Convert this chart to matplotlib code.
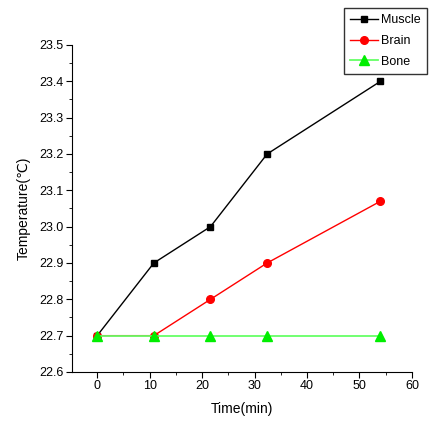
import matplotlib
matplotlib.use("Agg")
import matplotlib.pyplot as plt
from matplotlib.ticker import MultipleLocator

plt.rcParams['font.family'] = ['Liberation Sans', 'DejaVu Sans']

time_min = [0, 10.8, 21.6, 32.4, 54]
muscle = [22.7, 22.9, 23.0, 23.2, 23.4]
brain = [22.7, 22.7, 22.8, 22.9, 23.07]
bone = [22.7, 22.7, 22.7, 22.7, 22.7]

fig = plt.figure(figsize=(4.35, 4.22), dpi=100)
ax = fig.add_axes([0.1655, 0.1185, 0.7815, 0.7749])

ax.plot(time_min, muscle, color='black', marker='s', markersize=4.5, lw=1, label='Muscle')
ax.plot(time_min, brain, color='red', marker='o', markersize=5.5, lw=1, label='Brain')
ax.plot(time_min, bone, color='#66ff66', marker='^', markersize=6.5, lw=1.3,
        markerfacecolor='#00ee00', markeredgecolor='#00ee00', label='Bone')

ax.set_xlim(-4.8, 60)
ax.set_ylim(22.6, 23.5)
ax.xaxis.set_major_locator(MultipleLocator(10))
ax.xaxis.set_minor_locator(MultipleLocator(5))
ax.yaxis.set_major_locator(MultipleLocator(0.1))
ax.yaxis.set_minor_locator(MultipleLocator(0.05))
ax.yaxis.set_major_formatter(plt.FormatStrFormatter('%.1f'))
ax.tick_params(which='both', direction='out', labelsize=9)
ax.tick_params(which='major', length=4, pad=2)
ax.tick_params(which='minor', length=2.5)

ax.spines['top'].set_visible(False)
ax.spines['right'].set_visible(False)

ax.set_xlabel('Time(min)', fontsize=10, labelpad=7)
ax.set_ylabel('Temperature(\u2103)', fontsize=10, labelpad=6)

leg = fig.legend(loc='upper right', bbox_to_anchor=(0.982, 0.981), fontsize=9,
                 frameon=True, fancybox=False, edgecolor='black', borderaxespad=0,
                 handlelength=2.2, borderpad=0.5, labelspacing=0.7, handletextpad=0.3)
leg.get_frame().set_linewidth(1)

fig.savefig('out.png', dpi=100)
